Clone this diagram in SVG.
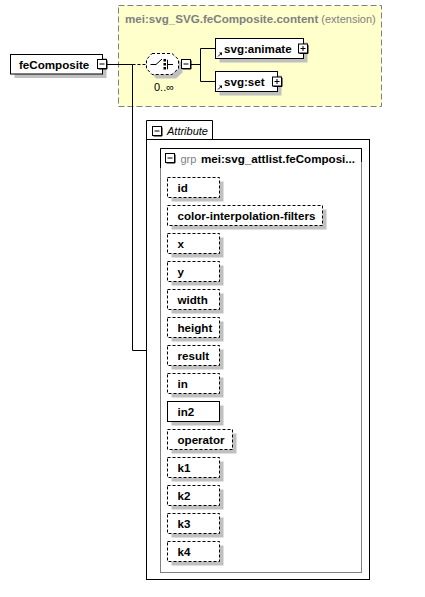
<svg xmlns="http://www.w3.org/2000/svg" width="425" height="597" viewBox="0 0 425 597">
<style>
text{font-family:"Liberation Sans",Arial,sans-serif;fill:#000}
.b{font-weight:bold;font-size:11.6px}
.r{font-size:11px}
.g{fill:#808080}
.sh{fill:#C0C0C0;stroke:none}
.box{fill:#fff;stroke:#000;stroke-width:1}
.dbox{fill:#fff;stroke:#000;stroke-width:1;stroke-dasharray:3,2}
.ln{fill:none;stroke:#000;stroke-width:1}
.icon{fill:#fff;stroke:#000;stroke-width:1}
</style>
<defs>
<g id="minus"><path class="ln" d="M1,9.5H9.5V1"/><rect class="icon" x="0" y="0" width="9" height="9"/><path class="ln" d="M2,4.5H7"/></g>
<g id="plus"><path class="ln" d="M1,9.5H9.5V1"/><rect class="icon" x="0" y="0" width="9" height="9"/><path class="ln" d="M2,4.5H7M4.5,2V7"/></g>
<g id="ref"><path class="ln" d="M0.5,4.5L3.5,1.5" stroke-width="1.2"/><path d="M1.5,0.5H4.5V3.5Z" fill="#000"/></g>
</defs>

<g id="content-extension">
<rect x="118.5" y="5.5" width="263" height="101" fill="#FFFFCC" stroke="#808080" stroke-dasharray="6,3"/>
<text x="125" y="23" class="g"><tspan class="b" style="fill:#808080">mei:svg_SVG.feComposite.content</tspan><tspan class="r" style="fill:#808080"> (extension)</tspan></text>
</g>

<g id="connectors">
<path class="ln" d="M106.5,64.5H132.5"/>
<path class="ln" d="M132.5,64.5H146" stroke-dasharray="3,2"/>
<path class="ln" d="M132.5,64.5V350.5H146.5"/>
<path class="ln" d="M190.5,64.5H200.5M200.5,48.5V81.5M200.5,48.5H215.5M200.5,81.5H215.5"/>
</g>

<g id="feComposite">
<rect class="sh" x="14.5" y="58" width="92" height="20"/>
<rect class="box" x="10.5" y="54.5" width="92" height="19.5"/>
<text x="19" y="68.5" class="b">feComposite</text>
<use href="#minus" x="97.5" y="59.5"/>
</g>

<g id="choice">
<path class="sh" d="M156,57.5H176L182.5,63.5V72.5L176,78.5H156L150.5,72.5V63.5Z"/>
<path d="M152,53.5H172L178.5,59.5V68.5L172,74.5H152L146.5,68.5V59.5Z" fill="#fff" stroke="#000" stroke-dasharray="3,2"/>
<path class="ln" d="M150.5,64.5H156L162,59"/>
<rect x="163.5" y="59" width="2.5" height="2.5" fill="#000"/>
<rect x="163.5" y="63" width="2.5" height="2.5" fill="#000"/>
<rect x="163.5" y="67" width="2.5" height="2.5" fill="#000"/>
<path class="ln" d="M168,60H167.5V69H168M167.5,64.5H173"/>
<use href="#minus" x="181.5" y="59.5"/>
<text x="154" y="91" class="r">0..∞</text>
</g>

<g id="svg-animate">
<rect class="sh" x="219.5" y="42.5" width="88" height="20"/>
<rect class="box" x="215.5" y="38.5" width="88" height="20"/>
<use href="#ref" x="217.5" y="52"/>
<text x="224" y="52.8" class="b">svg:animate</text>
<use href="#plus" x="298.5" y="44"/>
</g>

<g id="svg-set">
<rect class="sh" x="219.5" y="75.5" width="62" height="20"/>
<rect class="box" x="215.5" y="71.5" width="62" height="20"/>
<use href="#ref" x="217.5" y="85"/>
<text x="224" y="85.8" class="b">svg:set</text>
<use href="#plus" x="272.5" y="77"/>
</g>

<g id="attributes">
<path class="ln" d="M146.5,139.5V120.5H212.5V139.5"/>
<rect class="ln" x="146.5" y="139.5" width="223" height="440"/>
<use href="#minus" x="152.5" y="126.5"/>
<text x="167" y="134.5" class="r" font-style="italic">Attribute</text>
</g>

<g id="grp">
<rect x="160.5" y="148.5" width="201" height="424" fill="none" stroke="#808080"/>
<path class="ln" d="M160.5,168V148.5H361.5V162"/>
<use href="#minus" x="165.5" y="153.5"/>
<text x="180.5" y="162.5" class="r g">grp</text>
<text x="201" y="162.5" class="b">mei:svg_attlist.feComposi...</text>
</g>

<g id="attr-id"><rect class="sh" x="171.5" y="181.5" width="52" height="20"/><rect class="dbox" x="167.5" y="177.5" width="52" height="20"/><text x="177.5" y="191.5" class="b">id</text></g>
<g id="attr-color-interpolation-filters"><rect class="sh" x="171.5" y="209.5" width="155" height="20"/><rect class="dbox" x="167.5" y="205.5" width="155" height="20"/><text x="177.5" y="219.5" class="b">color-interpolation-filters</text></g>
<g id="attr-x"><rect class="sh" x="171.5" y="237.5" width="52" height="20"/><rect class="dbox" x="167.5" y="233.5" width="52" height="20"/><text x="177.5" y="247.5" class="b">x</text></g>
<g id="attr-y"><rect class="sh" x="171.5" y="265.5" width="52" height="20"/><rect class="dbox" x="167.5" y="261.5" width="52" height="20"/><text x="177.5" y="275.5" class="b">y</text></g>
<g id="attr-width"><rect class="sh" x="171.5" y="293.5" width="52" height="20"/><rect class="dbox" x="167.5" y="289.5" width="52" height="20"/><text x="177.5" y="303.5" class="b">width</text></g>
<g id="attr-height"><rect class="sh" x="171.5" y="321.5" width="52" height="20"/><rect class="dbox" x="167.5" y="317.5" width="52" height="20"/><text x="177.5" y="331.5" class="b">height</text></g>
<g id="attr-result"><rect class="sh" x="171.5" y="349.5" width="52" height="20"/><rect class="dbox" x="167.5" y="345.5" width="52" height="20"/><text x="177.5" y="359.5" class="b">result</text></g>
<g id="attr-in"><rect class="sh" x="171.5" y="377.5" width="52" height="20"/><rect class="dbox" x="167.5" y="373.5" width="52" height="20"/><text x="177.5" y="387.5" class="b">in</text></g>
<g id="attr-in2"><rect class="sh" x="171.5" y="405.5" width="52" height="20"/><rect class="box" x="167.5" y="401.5" width="52" height="20"/><text x="177.5" y="415.5" class="b">in2</text></g>
<g id="attr-operator"><rect class="sh" x="171.5" y="433.5" width="65" height="20"/><rect class="dbox" x="167.5" y="429.5" width="65" height="20"/><text x="177.5" y="443.5" class="b">operator</text></g>
<g id="attr-k1"><rect class="sh" x="171.5" y="461.5" width="52" height="20"/><rect class="dbox" x="167.5" y="457.5" width="52" height="20"/><text x="177.5" y="471.5" class="b">k1</text></g>
<g id="attr-k2"><rect class="sh" x="171.5" y="489.5" width="52" height="20"/><rect class="dbox" x="167.5" y="485.5" width="52" height="20"/><text x="177.5" y="499.5" class="b">k2</text></g>
<g id="attr-k3"><rect class="sh" x="171.5" y="517.5" width="52" height="20"/><rect class="dbox" x="167.5" y="513.5" width="52" height="20"/><text x="177.5" y="527.5" class="b">k3</text></g>
<g id="attr-k4"><rect class="sh" x="171.5" y="545.5" width="52" height="20"/><rect class="dbox" x="167.5" y="541.5" width="52" height="20"/><text x="177.5" y="555.5" class="b">k4</text></g>
</svg>
